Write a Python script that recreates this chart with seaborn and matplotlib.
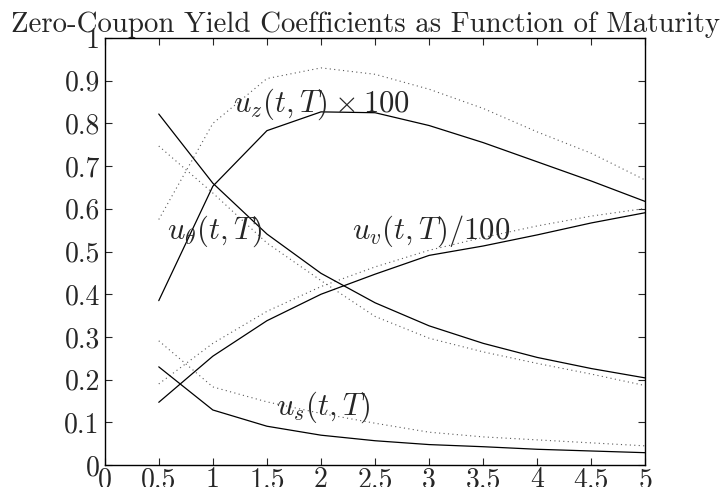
import matplotlib
matplotlib.use('Agg')
import matplotlib.pyplot as plt
import seaborn as sns
import pandas as pd

# maturities (years)
maturity = [0.5, 1, 1.5, 2, 2.5, 3, 3.5, 4, 4.5, 5]

# coefficients, solid = model, dotted = comparison
uz_solid = [0.385, 0.653, 0.783, 0.827, 0.825, 0.795, 0.755, 0.71, 0.665, 0.617]
uz_dot = [0.575, 0.80, 0.905, 0.93, 0.915, 0.88, 0.835, 0.78, 0.73, 0.667]
uth_solid = [0.822, 0.66, 0.541, 0.449, 0.38, 0.326, 0.285, 0.252, 0.226, 0.204]
uth_dot = [0.747, 0.637, 0.52, 0.432, 0.348, 0.297, 0.265, 0.238, 0.213, 0.186]
uv_solid = [0.147, 0.255, 0.338, 0.40, 0.447, 0.491, 0.513, 0.539, 0.567, 0.591]
uv_dot = [0.19, 0.285, 0.36, 0.418, 0.464, 0.503, 0.533, 0.56, 0.583, 0.601]
us_solid = [0.23, 0.129, 0.091, 0.07, 0.057, 0.048, 0.043, 0.037, 0.033, 0.029]
us_dot = [0.291, 0.183, 0.148, 0.121, 0.098, 0.077, 0.066, 0.059, 0.052, 0.045]

xticks = [0, 0.5, 1, 1.5, 2, 2.5, 3, 3.5, 4, 4.5, 5]
xtick_labels = ['0', '0.5', '1', '1.5', '2', '2.5', '3', '3.5', '4', '4.5', '5']
yticks = [0, 0.1, 0.2, 0.3, 0.4, 0.5, 0.6, 0.7, 0.8, 0.9, 1]
ytick_labels = ['0', '0.1', '0.2', '0.3', '0.4', '0.5', '0.6', '0.7', '0.8', '0.9', '1']

sns.set_style('ticks')
plt.rcParams['font.family'] = ['cmr10']
plt.rcParams['mathtext.fontset'] = 'cm'
plt.rcParams['axes.unicode_minus'] = False

fig = plt.figure(figsize=(7.22, 4.87), dpi=100)
ax = fig.add_axes([0.145, 0.045, 0.749, 0.877])

solid = {'uz': uz_solid, 'uth': uth_solid, 'uv': uv_solid, 'us': us_solid}
dotted = {'uz': uz_dot, 'uth': uth_dot, 'uv': uv_dot, 'us': us_dot}

for name, vals in dotted.items():
    df = pd.DataFrame({'T': maturity, 'u': vals})
    sns.lineplot(data=df, x='T', y='u', ax=ax, color='0.35', lw=0.8,
                 linestyle=(0, (1, 3)))
for name, vals in solid.items():
    df = pd.DataFrame({'T': maturity, 'u': vals})
    sns.lineplot(data=df, x='T', y='u', ax=ax, color='black', lw=0.9)

fs = 22
ax.text(1.19, 0.827, r'$u_z(t,T)\times 100$', fontsize=fs, va='baseline')
ax.text(0.58, 0.53, r'$u_\theta(t,T)$', fontsize=fs, va='baseline')
ax.text(2.29, 0.53, r'$u_v(t,T)/100$', fontsize=fs, va='baseline')
ax.text(1.58, 0.117, r'$u_s(t,T)$', fontsize=fs, va='baseline')

ax.set_xlim(0, 5)
ax.set_ylim(0, 1)
ax.set_xticks(xticks)
ax.set_xticklabels(xtick_labels, fontsize=20)
ax.set_yticks(yticks)
ax.set_yticklabels(ytick_labels, fontsize=20)
ax.tick_params(direction='in', top=True, right=True, length=5, width=0.8)
ax.tick_params(axis='x', pad=1.5)
ax.tick_params(axis='y', pad=3.5)
for s in ax.spines.values():
    s.set_linewidth(1.0)
    s.set_color('black')
ax.set_xlabel('')
ax.set_ylabel('')
ax.set_title('Zero-Coupon Yield Coefficients as Function of Maturity',
             fontsize=20.8, x=0.483, y=1.014, pad=0)

fig.savefig('out.png', dpi=100)
